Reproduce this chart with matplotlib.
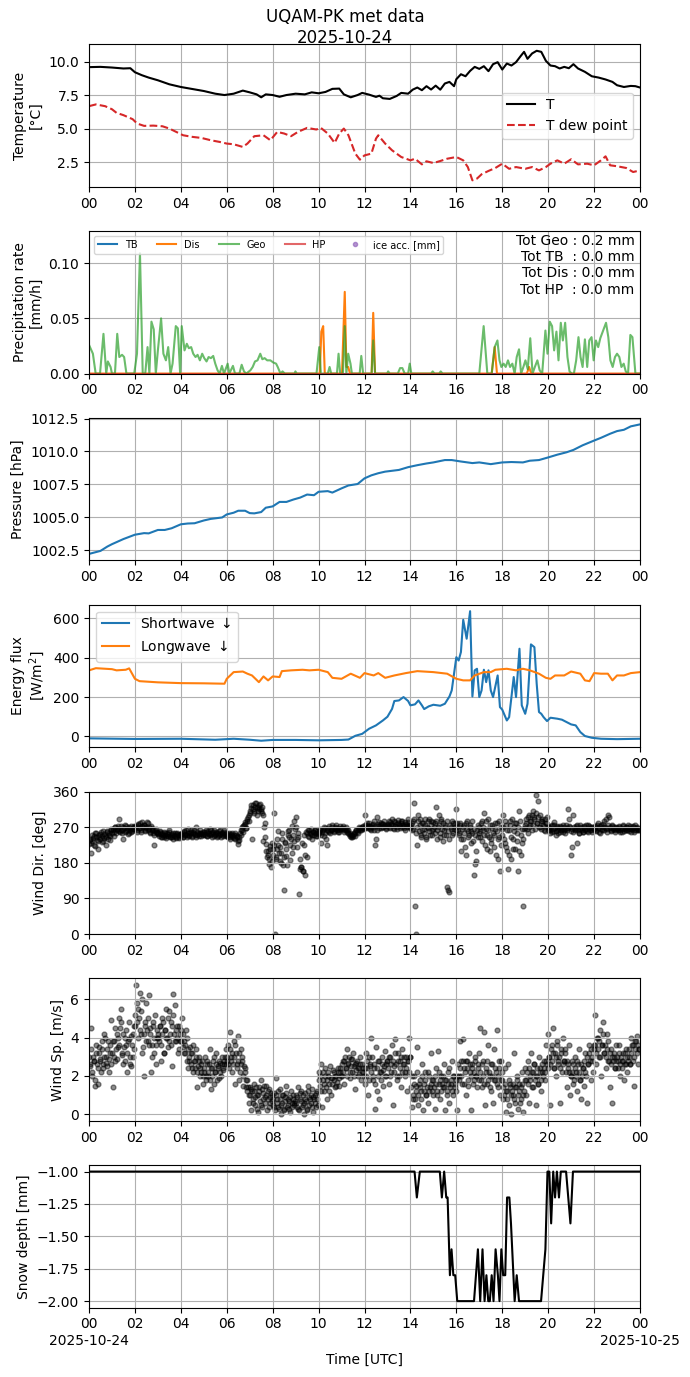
import numpy as np
import matplotlib
matplotlib.use("Agg")
import matplotlib.pyplot as plt

# ---- temperature (hours, degC) ----
t_temp = [0, 0.5, 1.0, 1.5, 1.8, 2.0, 2.3, 2.6, 3.0, 3.5, 4.0, 4.5, 5.0, 5.5, 5.9,
          6.3, 6.7, 7.0, 7.3, 7.5, 7.7, 8.0, 8.3, 8.6, 9.0, 9.4, 9.7, 10.0, 10.3,
          10.6, 10.9, 11.1, 11.4, 11.7, 11.9, 12.2, 12.5, 12.65, 12.8, 13.1, 13.4,
          13.6, 13.9, 14.1, 14.3, 14.5, 14.7, 14.9, 15.1, 15.3, 15.5, 15.7, 15.9,
          16.0, 16.2, 16.4, 16.6, 16.8, 17.0, 17.2, 17.4, 17.6, 17.8, 18.0, 18.2,
          18.4, 18.6, 18.8, 18.95, 19.1, 19.3, 19.5, 19.7, 19.9, 20.1, 20.3, 20.5,
          20.7, 20.9, 21.1, 21.3, 21.6, 21.9, 22.2, 22.5, 22.8, 23.0, 23.3, 23.6,
          23.8, 24.0]
temp = [9.58, 9.6, 9.55, 9.48, 9.5, 9.2, 8.98, 8.8, 8.6, 8.3, 8.1, 7.95, 7.8, 7.6, 7.5,
        7.6, 7.83, 7.7, 7.55, 7.33, 7.55, 7.5, 7.37, 7.5, 7.6, 7.55, 7.7, 7.63, 7.73,
        7.96, 7.98, 7.55, 7.33, 7.5, 7.66, 7.53, 7.36, 7.45, 7.26, 7.21, 7.43,
        7.66, 7.6, 7.9, 8.06, 7.86, 8.16, 7.91, 8.2, 7.9, 8.36, 8.48, 8.16,
        8.68, 9.05, 8.9, 9.3, 9.6, 9.45, 9.65, 9.28, 9.8, 9.95, 9.4, 9.85,
        9.7, 9.95, 10.4, 10.72, 10.2, 10.6, 10.8, 10.72, 10.05, 9.7, 9.65, 9.48,
        9.6, 9.5, 9.8, 9.48, 9.23, 8.9, 8.8, 8.66, 8.48, 8.23, 8.1, 8.18,
        8.16, 8.06]

t_dew = [0, 0.3, 0.7, 1.0, 1.2, 1.5, 1.9, 2.1, 2.4, 2.8, 3.2, 3.5, 3.8, 4.1, 4.5, 4.9,
         5.3, 5.7, 6.0, 6.3, 6.7, 6.9, 7.2, 7.6, 7.9, 8.2, 8.5, 8.8, 9.1, 9.5, 9.9,
         10.1, 10.4, 10.7, 10.9, 11.1, 11.3, 11.6, 11.8, 12.0, 12.3, 12.5, 12.6,
         12.9, 13.2, 13.6, 14.0, 14.2, 14.5, 14.7, 15.0, 15.3, 15.6, 16.0, 16.3,
         16.5, 16.7, 16.9, 17.1, 17.4, 17.7, 18.0, 18.3, 18.6, 19.0, 19.3, 19.6,
         19.9, 20.1, 20.4, 20.7, 21.0, 21.3, 21.7, 22.0, 22.3, 22.5, 22.7, 23.0,
         23.4, 23.7, 24.0]
dew = [6.67, 6.8, 6.67, 6.44, 6.17, 6.0, 5.7, 5.37, 5.2, 5.22, 5.17, 5.0, 4.75, 4.5, 4.38, 4.3,
       4.13, 4.0, 3.88, 3.83, 3.63, 3.88, 4.43, 4.5, 4.13, 4.75, 4.63, 4.43, 4.75, 5.05, 4.93,
       5.05, 4.63, 3.93, 4.63, 5.0, 4.5, 3.13, 2.68, 3.0, 3.13, 4.25, 4.5,
       3.88, 3.38, 2.88, 2.63, 2.75, 2.33, 2.56, 2.43, 2.58, 2.75, 2.88, 2.63,
       2.13, 1.14, 1.27, 1.59, 1.84, 2.06, 2.38, 2.0, 2.13, 2.0, 2.13, 1.88,
       2.13, 2.38, 2.63, 2.38, 2.71, 2.33, 2.38, 2.26, 2.63, 2.93, 2.26, 2.19,
       2.06, 1.76, 1.88]

# ---- precipitation (hours, mm/h) ----
t_geo = [0, 0.17, 0.29, 0.48, 0.63, 0.75, 0.82, 0.94, 1.0, 1.13, 1.23, 1.32, 1.44, 1.53,
         1.63, 1.97, 2.09, 2.22, 2.34, 2.45, 2.55, 2.63, 2.72, 2.82, 2.91, 3.0, 3.14,
         3.24, 3.35, 3.45, 3.55, 3.64, 3.78, 3.87, 3.97, 4.04, 4.16, 4.26, 4.35, 4.45,
         4.54, 4.64, 4.73, 4.83, 4.93, 5.02, 5.12, 5.21, 5.31, 5.41, 5.5, 5.6, 5.69,
         5.79, 5.88, 6.04, 6.11, 6.27, 6.36, 6.55, 6.65, 6.75, 6.85, 7.03, 7.13, 7.23,
         7.34, 7.46, 7.55, 7.65, 7.76, 7.9, 8.03, 8.15, 8.22, 8.34, 8.43, 8.53, 8.95,
         8.99, 9.05, 9.91, 10.03, 10.1, 10.4, 10.48, 10.55, 10.8, 10.87, 10.94, 11.06,
         11.14, 11.21, 11.29, 11.39, 11.45, 11.79, 11.86, 11.94, 12.31, 12.38, 12.46,
         12.98, 13.03, 13.1, 13.45, 13.55, 13.65, 13.75, 13.9, 13.97, 14.04, 14.9,
         14.97, 15.05, 15.25, 15.32, 15.4, 17.0, 17.19, 17.35, 17.54, 17.67, 17.79,
         17.88, 17.96, 18.06, 18.15, 18.25, 18.34, 18.44, 18.54, 18.63, 18.73, 18.82,
         18.92, 19.01, 19.11, 19.22, 19.32, 19.42, 19.53, 19.63, 19.74, 19.88, 19.97,
         20.07, 20.17, 20.26, 20.36, 20.45, 20.55, 20.64, 20.74, 20.84, 20.93, 21.03,
         21.12, 21.22, 21.32, 21.41, 21.5, 21.6, 21.7, 21.79, 21.89, 21.98, 22.08,
         22.18, 22.27, 22.41, 22.52, 22.62, 22.71, 22.81, 22.91, 23.0, 23.1, 23.19,
         23.29, 23.38, 23.48, 23.58, 23.67, 23.8, 24.0]
geo = [0.026, 0.018, 0, 0, 0.036, 0, 0.011, 0.006, 0, 0, 0.036, 0.015, 0.017, 0.015,
       0, 0, 0.018, 0.109, 0, 0, 0.024, 0, 0.047, 0.040, 0, 0.021, 0.050,
       0.018, 0.012, 0.024, 0, 0.009, 0.043, 0.041, 0, 0.043, 0.021, 0.027, 0.023, 0.024,
       0.018, 0.015, 0.017, 0.012, 0.018, 0.014, 0.011, 0.015, 0.014, 0.016, 0.009, 0.003, 0,
       0.007, 0, 0.009, 0, 0.007, 0, 0, 0.008, 0.002, 0, 0.003, 0.006, 0.011,
       0.012, 0.018, 0.013, 0.014, 0.012, 0.012, 0.010, 0.009, 0.006, 0, 0.002, 0, 0,
       0.002, 0, 0, 0.024, 0, 0, 0.006, 0, 0, 0.018, 0, 0,
       0.043, 0, 0.018, 0.009, 0, 0, 0.016, 0, 0, 0.030, 0,
       0, 0.002, 0, 0, 0.005, 0.005, 0, 0, 0.009, 0, 0,
       0.002, 0, 0, 0.002, 0, 0, 0.043, 0, 0, 0.024, 0.030,
       0.012, 0.006, 0.009, 0.006, 0.012, 0.006, 0.009, 0, 0.015, 0.022, 0,
       0.006, 0.012, 0.004, 0.032, 0, 0.006, 0.012, 0.003, 0, 0.039, 0.018,
       0.047, 0.043, 0.021, 0.038, 0.012, 0.046, 0.030, 0.046, 0.015, 0.002, 0,
       0, 0.012, 0.033, 0.015, 0.006, 0.031, 0.006, 0.030, 0.033, 0.012, 0.030,
       0.024, 0.032, 0.040, 0.046, 0.033, 0.012, 0.006, 0.015, 0.018, 0.015, 0.006,
       0.009, 0.002, 0, 0.035, 0.033, 0, 0]

t_dis = [0, 10.05, 10.12, 10.2, 10.27, 11.02, 11.14, 11.21, 11.29, 11.37, 12.31, 12.38,
         12.46, 17.54, 17.67, 17.77, 19.07, 19.17, 19.26, 24.0]
dis = [0, 0, 0.038, 0.043, 0, 0, 0.074, 0.006, 0.006, 0, 0, 0.055,
       0, 0, 0.024, 0, 0, 0.006, 0, 0]

t_tb = [0, 24.0]
tb = [0, 0]
t_hp = [0, 24.0]
hp = [0, 0]
ice_acc = []

tot_geo, tot_tb, tot_dis, tot_hp = 0.2, 0.0, 0.0, 0.0

# ---- pressure (hours, hPa) ----
t_pres = [0, 0.5, 0.8, 1.0, 1.5, 2.0, 2.4, 2.6, 3.0, 3.3, 3.6, 4.0, 4.3, 4.6, 5.0, 5.3,
          5.8, 6.0, 6.3, 6.5, 6.8, 7.0, 7.2, 7.5, 7.7, 8.0, 8.3, 8.6, 8.9, 9.2, 9.5,
          9.8, 10.0, 10.4, 10.6, 11.0, 11.3, 11.7, 12.0, 12.3, 12.6, 12.9, 13.5,
          13.9, 14.3, 14.7, 15.0, 15.5, 15.8, 16.2, 16.7, 17.0, 17.5, 18.0, 18.4,
          18.9, 19.2, 19.6, 20.0, 20.4, 20.8, 21.1, 21.5, 22.0, 22.3, 22.7, 23.0,
          23.3, 23.6, 24.0]
pres = [1002.22, 1002.45, 1002.78, 1002.96, 1003.35, 1003.68, 1003.8, 1003.78, 1004.04,
        1004.04, 1004.17, 1004.47, 1004.53, 1004.55, 1004.76, 1004.88, 1004.99, 1005.22,
        1005.35, 1005.5, 1005.5, 1005.32, 1005.3, 1005.4, 1005.73, 1005.83, 1006.17,
        1006.17, 1006.35, 1006.5, 1006.73, 1006.68, 1006.94, 1006.99, 1006.88, 1007.2,
        1007.42, 1007.53, 1007.96, 1008.19, 1008.35, 1008.47, 1008.6, 1008.81, 1008.96,
        1009.09, 1009.17, 1009.35, 1009.35, 1009.24, 1009.12, 1009.17, 1009.04, 1009.17,
        1009.2, 1009.17, 1009.3, 1009.35, 1009.55, 1009.76, 1009.94, 1010.12, 1010.47,
        1010.83, 1011.04, 1011.35, 1011.55, 1011.65, 1011.91, 1012.06]

# ---- radiation (hours, W/m2) ----
t_sw = [0, 2, 4, 5.5, 6.3, 7.0, 7.5, 8, 9, 10, 11, 11.3, 11.6, 11.9, 12.2, 12.5, 12.8,
        13.0, 13.2, 13.3, 13.5, 13.7, 13.9, 14.0, 14.2, 14.35, 14.5, 14.6, 14.8, 15.0,
        15.3, 15.5, 15.7, 15.8, 15.9, 16.0, 16.1, 16.2, 16.3, 16.45, 16.6, 16.7, 16.8,
        16.9, 17.0, 17.1, 17.2, 17.3, 17.4, 17.5, 17.6, 17.8, 17.9, 18.0, 18.2, 18.3,
        18.5, 18.6, 18.75, 18.85, 19.0, 19.1, 19.25, 19.4, 19.5, 19.6, 19.7, 19.8,
        19.95, 20.1, 20.4, 20.6, 20.8, 21.0, 21.2, 21.4, 21.6, 21.9, 22.3, 23, 24]
sw = [-10, -13, -12, -17, -12, -17, -22, -18, -18, -20, -18, -16, 3, 13, 39, 56, 81,
      100, 140, 180, 183, 200, 180, 158, 163, 183, 158, 139, 153, 161,
      156, 166, 203, 234, 319, 403, 386, 429, 593, 497, 637, 203, 336,
      344, 200, 234, 339, 276, 336, 234, 200, 310, 149, 136, 81, 98,
      302, 200, 446, 158, 115, 166, 468, 454, 268, 124, 115, 98,
      78, 95, 90, 85, 73, 61, 56, 22, 2, -7, -12, -14, -12]

t_lw = [0, 0.3, 1.0, 1.2, 1.6, 1.75, 2.0, 2.2, 3, 4, 5, 5.9, 6.0, 6.3, 6.7, 6.9, 7.1,
        7.4, 7.6, 7.8, 8.0, 8.3, 8.4, 8.8, 9.3, 9.6, 10.0, 10.4, 10.6, 11.0, 11.4,
        11.8, 12.0, 12.4, 12.6, 12.9, 13.3, 13.8, 14.3, 15.0, 15.6, 16.0, 16.3, 16.6,
        16.8, 17.2, 17.5, 17.7, 18.2, 18.6, 18.9, 19.2, 19.6, 19.9, 20.1, 20.3, 20.7,
        21.0, 21.4, 21.6, 21.8, 22.0, 22.3, 22.6, 22.8, 23.0, 23.3, 23.6, 24.0]
lw = [336, 347, 342, 336, 339, 346, 293, 281, 275, 271, 270, 268, 293, 327, 330, 319, 310,
      276, 305, 285, 305, 302, 332, 336, 339, 336, 339, 327, 298, 293, 319,
      298, 322, 310, 322, 298, 310, 322, 332, 327, 319, 293, 285, 285,
      310, 327, 327, 339, 344, 336, 344, 336, 319, 298, 293, 310, 310,
      330, 319, 285, 281, 322, 319, 319, 285, 310, 310, 322, 327]

# ---- wind direction (deg): 20 "even" samples per hour ----
wind_dir = [
    228, 240, 205, 235, 248, 222, 255, 238, 215, 245, 252, 232, 260, 242, 248, 225, 258, 250, 238, 262,
    255, 265, 248, 270, 262, 268, 290, 258, 272, 264, 240, 275, 260, 268, 252, 270, 262, 258, 266, 272,
    265, 272, 258, 278, 268, 262, 282, 270, 275, 260, 268, 280, 265, 258, 272, 262, 255, 225, 265, 258,
    255, 248, 260, 252, 245, 258, 250, 242, 256, 248, 262, 245, 252, 240, 250, 255, 246, 252, 242, 250,
    248, 256, 245, 260, 252, 250, 265, 248, 255, 262, 246, 258, 252, 270, 250, 256, 248, 262, 254, 250,
    258, 250, 262, 248, 255, 265, 252, 246, 258, 262, 250, 255, 248, 260, 252, 245, 256, 250, 262, 248,
    250, 245, 255, 240, 252, 248, 242, 255, 250, 246, 228, 238, 262, 270, 258, 275, 282, 268, 290, 285,
    305, 318, 240, 325, 312, 330, 300, 322, 315, 328, 310, 320, 235, 280, 228, 195, 210, 178, 222, 185,
    215, 305, 0, 195, 240, 225, 185, 205, 255, 175, 110, 232, 198, 250, 262, 188, 240, 272, 220, 285,
    295, 240, 255, 100, 165, 170, 160, 225, 150, 258, 195, 248, 262, 252, 240, 258, 250, 262, 255, 248,
    255, 262, 230, 258, 265, 248, 268, 225, 260, 272, 255, 262, 270, 258, 265, 275, 262, 268, 258, 265,
    268, 272, 262, 265, 270, 258, 262, 255, 250, 245, 248, 252, 258, 262, 255, 265, 268, 262, 270, 265,
    300, 268, 275, 272, 280, 265, 270, 278, 262, 225, 240, 295, 272, 282, 268, 278, 270, 285, 275, 268,
    272, 285, 268, 278, 290, 275, 265, 282, 270, 288, 275, 268, 280, 285, 272, 262, 278, 270, 282, 275,
    270, 262, 285, 330, 70, 0, 225, 300, 290, 245, 262, 280, 255, 275, 240, 268, 290, 250, 285, 262,
    265, 280, 320, 240, 270, 300, 255, 285, 235, 262, 275, 250, 120, 110, 105, 270, 285, 255, 265, 280,
    315, 270, 255, 280, 210, 265, 240, 275, 200, 285, 260, 250, 270, 230, 255, 150, 178, 185, 262, 245,
    270, 245, 285, 262, 305, 225, 265, 250, 290, 210, 240, 275, 255, 220, 265, 280, 190, 245, 160, 270,
    250, 300, 230, 275, 210, 165, 262, 285, 190, 240, 270, 215, 280, 255, 160, 310, 200, 230, 70, 265,
    268, 290, 255, 300, 275, 285, 262, 310, 295, 350, 280, 335, 270, 300, 265, 285, 272, 260, 280, 295,
    262, 270, 255, 275, 260, 282, 268, 250, 272, 262, 258, 270, 265, 275, 262, 255, 268, 315, 290, 270,
    200, 220, 300, 265, 272, 230, 262, 255, 275, 268, 258, 270, 262, 275, 265, 258, 272, 268, 262, 270,
    265, 272, 260, 280, 268, 255, 275, 262, 270, 285, 268, 258, 300, 295, 270, 262, 275, 265, 258, 270,
    268, 262, 272, 258, 265, 275, 260, 268, 270, 262, 266, 272, 258, 265, 270, 262, 275, 268, 262, 266,
]
# 20 "odd" samples per hour, taken half a step later
wind_dir_odd = [
    238, 230, 250, 242, 225, 255, 245, 235, 250, 240, 258, 248, 236, 252, 244, 260, 240, 255, 248, 265,
    262, 258, 270, 255, 266, 272, 260, 264, 255, 270, 268, 258, 274, 262, 256, 268, 272, 260, 265, 270,
    270, 262, 275, 268, 280, 258, 272, 276, 264, 270, 282, 262, 270, 256, 268, 262, 250, 262, 258, 255,
    252, 258, 245, 254, 250, 244, 255, 248, 252, 258, 244, 250, 246, 254, 248, 242, 256, 250, 245, 252,
    252, 245, 258, 250, 262, 246, 255, 250, 258, 248, 255, 262, 250, 246, 258, 252, 256, 248, 252, 258,
    252, 258, 248, 260, 252, 250, 262, 255, 248, 252, 258, 246, 255, 250, 262, 254, 248, 258, 252, 255,
    248, 252, 244, 250, 256, 245, 250, 240, 248, 235, 245, 255, 250, 262, 272, 278, 268, 285, 295, 300,
    310, 325, 315, 305, 320, 332, 318, 312, 325, 315, 305, 300, 270, 245, 210, 200, 190, 215, 170, 230,
    200, 225, 190, 215, 260, 205, 220, 180, 240, 195, 230, 215, 175, 260, 245, 225, 205, 250, 235, 265,
    270, 220, 245, 190, 170, 230, 160, 250, 200, 255, 262, 245, 255, 265, 250, 258, 262, 248, 260, 252,
    258, 265, 250, 262, 270, 255, 240, 262, 268, 258, 262, 275, 265, 260, 270, 268, 258, 262, 272, 268,
    265, 268, 258, 262, 266, 255, 252, 248, 246, 250, 255, 248, 262, 258, 266, 270, 262, 268, 272, 268,
    275, 270, 280, 268, 272, 262, 276, 270, 285, 272, 262, 278, 268, 275, 280, 270, 278, 272, 265, 276,
    278, 270, 282, 275, 268, 285, 272, 278, 265, 280, 272, 285, 270, 276, 268, 282, 275, 290, 272, 268,
    275, 280, 265, 290, 255, 270, 285, 260, 275, 250, 280, 265, 290, 245, 270, 285, 260, 275, 250, 282,
    270, 255, 285, 262, 275, 245, 290, 265, 280, 250, 270, 285, 260, 240, 275, 265, 250, 280, 270, 262,
    280, 262, 250, 275, 240, 270, 255, 220, 280, 265, 245, 275, 260, 285, 235, 265, 250, 210, 275, 255,
    260, 280, 235, 270, 250, 285, 215, 262, 245, 275, 230, 268, 250, 280, 200, 260, 240, 285, 225, 265,
    270, 240, 285, 220, 262, 200, 275, 245, 290, 215, 260, 280, 235, 270, 210, 285, 250, 265, 240, 275,
    280, 265, 295, 270, 285, 300, 275, 290, 265, 305, 280, 295, 270, 285, 290, 275, 262, 290, 280, 270,
    268, 262, 272, 258, 265, 275, 260, 270, 255, 268, 272, 262, 258, 270, 265, 275, 262, 268, 272, 260,
    265, 258, 270, 262, 268, 275, 255, 265, 270, 262, 258, 272, 266, 260, 275, 268, 262, 270, 258, 265,
    270, 262, 275, 268, 258, 272, 265, 278, 262, 270, 290, 265, 275, 268, 260, 272, 266, 270, 262, 268,
    265, 270, 262, 268, 258, 272, 266, 262, 270, 275, 260, 268, 265, 272, 258, 268, 262, 270, 266, 262,
]

# ---- wind speed (m/s): 20 "even" samples per hour ----
wind_sp = [
    3.0, 2.5, 4.5, 2.0, 2.8, 1.5, 3.2, 2.6, 1.6, 3.5, 2.8, 3.8, 2.4, 3.0, 4.0, 2.7, 3.4, 2.2, 3.6, 4.9,
    3.2, 1.4, 3.8, 2.8, 4.2, 3.5, 5.0, 4.5, 5.5, 3.2, 2.6, 4.0, 3.6, 2.2, 3.8, 4.8, 3.0, 2.5, 4.2, 3.4,
    5.2, 6.75, 4.8, 5.5, 6.3, 4.2, 6.0, 3.5, 2.0, 4.6, 5.8, 3.8, 6.2, 4.5, 2.2, 3.6, 4.8, 3.2, 2.6, 4.0,
    4.2, 3.8, 4.6, 2.8, 5.0, 3.2, 4.4, 5.5, 4.0, 3.5, 5.4, 4.8, 2.5, 6.25, 4.2, 5.7, 3.8, 4.6, 3.4, 4.2,
    4.4, 5.0, 3.5, 3.8, 3.2, 4.0, 2.4, 3.0, 3.5, 2.6, 3.2, 2.2, 2.8, 3.4, 1.4, 2.5, 3.0, 2.0, 2.6, 1.6,
    2.2, 3.0, 1.8, 2.6, 2.0, 3.4, 1.3, 2.4, 2.8, 1.6, 2.2, 3.2, 2.5, 1.9, 2.7, 2.0, 3.0, 2.3, 2.6, 3.4,
    2.8, 3.6, 2.4, 4.3, 3.0, 2.2, 3.8, 1.6, 3.2, 2.6, 4.1, 1.8, 3.4, 2.8, 1.5, 2.5, 2.2, 1.4, 1.8, 0.6,
    1.4, 0.2, 1.2, 0.8, 1.6, 0.5, 1.0, 0.1, 1.4, 0.7, 1.8, 0.4, 1.1, 0.9, 1.5, 0.2, 0.8, 1.3, 0.6, 1.0,
    0.5, 1.1, 0.2, 1.9, 0.8, 0.4, 1.3, 0.0, 0.6, 1.0, 0.3, 0.9, 1.5, 0.5, 0.7, 0.1, 1.2, 0.4, 0.8, 0.6,
    1.0, 0.4, 1.4, 0.2, 0.8, 1.2, 0.5, 0.0, 1.1, 0.7, 0.3, 1.5, 0.9, 0.6, 1.3, 0.1, 0.8, 1.0, 0.4, 1.2,
    2.2, 1.5, 2.6, 0.4, 1.8, 1.2, 2.4, 0.8, 2.0, 1.6, 2.5, 1.0, 1.9, 2.2, 1.4, 2.0, 1.7, 2.4, 1.5, 2.2,
    2.0, 2.8, 1.6, 3.0, 2.4, 3.4, 2.6, 1.9, 2.9, 2.2, 3.2, 2.5, 1.3, 2.7, 2.0, 2.4, 3.0, 1.8, 2.6, 2.2,
    1.6, 3.2, 2.4, 1.0, 3.0, 2.6, 4.0, 1.8, 2.4, 0.3, 3.5, 1.2, 2.8, 0.8, 2.2, 3.0, 1.5, 2.5, 3.3, 2.0,
    2.8, 1.6, 3.0, 2.2, 3.6, 0.5, 2.5, 3.9, 1.8, 3.2, 2.0, 2.8, 1.4, 3.4, 2.6, 2.2, 3.0, 1.2, 2.8, 4.0,
    3.0, 0.4, 1.0, 2.0, 0.8, 1.5, 3.5, 0.5, 1.8, 1.2, 2.6, 0.2, 1.6, 2.2, 1.0, 0.6, 2.0, 1.4, 3.2, 1.2,
    1.8, 0.3, 2.4, 1.2, 3.3, 1.6, 0.8, 2.0, 1.4, 2.6, 0.2, 1.8, 1.2, 2.2, 0.6, 1.6, 2.8, 1.0, 2.0, 1.4,
    1.2, 0.2, 2.0, 3.8, 2.8, 1.6, 3.9, 2.4, 1.0, 2.8, 1.5, 3.2, 2.2, 0.2, 2.6, 1.8, 3.0, 2.0, 1.4, 2.6,
    3.2, 4.5, 1.4, 2.8, 4.3, 0.5, 2.2, 1.6, 3.6, 2.0, 1.2, 2.6, 0.6, 3.4, 1.8, 4.4, 1.4, 2.4, 1.0, 2.8,
    1.8, 0.8, 2.4, 0.1, 1.2, 2.6, 0.5, 1.6, 0.0, 1.0, 3.2, 0.6, 1.4, 2.0, 0.3, 1.6, 0.8, 2.2, 0.1, 1.2,
    2.4, 1.0, 2.8, 0.6, 1.8, 3.2, 2.2, 1.4, 2.6, 0.5, 2.0, 1.6, 3.0, 2.4, 1.2, 2.2, 2.8, 1.8, 3.6, 2.6,
    4.2, 3.0, 0.5, 3.6, 4.5, 2.4, 3.2, 2.0, 3.8, 2.6, 0.6, 3.4, 2.2, 4.0, 2.8, 3.2, 1.4, 2.6, 3.6, 1.0,
    2.0, 2.8, 1.6, 3.0, 2.2, 1.2, 2.6, 3.4, 1.8, 0.8, 2.4, 1.5, 3.2, 2.0, 0.6, 2.6, 3.6, 1.8, 2.8, 2.2,
    3.4, 5.2, 2.6, 4.0, 3.0, 4.4, 2.0, 3.6, 4.8, 3.2, 2.4, 4.2, 3.8, 2.8, 1.4, 3.4, 0.6, 3.0, 2.4, 3.6,
    3.0, 2.4, 3.6, 2.0, 2.8, 3.2, 1.8, 2.6, 3.4, 2.2, 3.0, 2.6, 4.0, 3.6, 2.8, 1.5, 3.8, 4.1, 2.6, 3.4,
]
# 20 "odd" samples per hour, taken half a step later
wind_sp_odd = [
    2.6, 3.4, 2.2, 3.0, 2.8, 1.8, 3.6, 2.4, 3.2, 2.9, 2.2, 3.4, 2.6, 4.2, 3.0, 2.5, 3.8, 2.9, 3.2, 2.6,
    3.8, 3.0, 4.5, 3.4, 2.9, 4.0, 3.6, 4.8, 3.1, 4.2, 3.5, 2.8, 4.4, 3.2, 3.9, 2.6, 4.1, 3.6, 3.0, 4.6,
    4.6, 5.8, 4.0, 5.0, 4.4, 5.4, 3.2, 4.2, 4.8, 3.8, 4.4, 5.0, 3.6, 4.2, 3.0, 4.6, 4.0, 5.2, 3.6, 4.4,
    4.0, 4.6, 3.6, 4.2, 4.8, 3.2, 4.4, 4.0, 5.0, 3.8, 4.2, 3.6, 4.6, 5.2, 3.8, 4.4, 4.0, 3.2, 4.6, 3.8,
    3.8, 4.2, 3.2, 3.6, 4.4, 2.8, 3.4, 2.8, 3.2, 2.4, 3.6, 2.8, 2.4, 3.0, 2.2, 2.8, 2.4, 2.2, 2.8, 2.0,
    2.4, 2.0, 2.8, 2.2, 2.6, 1.8, 2.4, 2.0, 3.0, 2.2, 2.6, 1.8, 2.4, 2.8, 2.2, 2.6, 2.4, 2.8, 3.0, 2.6,
    3.0, 2.6, 3.4, 2.8, 3.2, 2.6, 3.0, 3.6, 2.4, 2.8, 3.2, 2.2, 2.6, 3.0, 2.0, 2.4, 1.8, 1.2, 1.4, 1.0,
    1.0, 1.3, 0.6, 1.2, 0.9, 1.4, 0.3, 1.0, 1.2, 0.5, 1.3, 0.8, 1.5, 0.6, 1.0, 1.2, 0.4, 0.9, 1.1, 0.7,
    0.8, 0.4, 1.0, 0.6, 1.2, 0.3, 0.8, 0.5, 1.0, 0.2, 0.7, 1.1, 0.4, 0.8, 0.3, 0.9, 0.6, 1.0, 0.5, 0.7,
    0.6, 0.9, 0.3, 1.1, 0.7, 0.4, 1.0, 0.6, 0.8, 0.2, 1.2, 0.5, 0.8, 1.0, 0.4, 0.9, 0.6, 1.1, 0.8, 0.5,
    1.8, 2.0, 1.2, 2.2, 1.6, 2.0, 1.4, 1.8, 2.2, 1.2, 1.9, 1.6, 2.3, 1.8, 2.0, 1.5, 2.2, 1.9, 2.4, 2.0,
    2.6, 2.2, 2.8, 2.4, 2.0, 2.7, 3.0, 2.2, 2.5, 2.9, 2.0, 2.6, 2.3, 2.8, 2.4, 2.1, 2.6, 2.2, 2.4, 2.0,
    2.4, 2.0, 2.8, 1.8, 2.5, 2.2, 3.0, 2.0, 2.6, 1.6, 2.4, 2.0, 2.8, 2.2, 1.8, 2.6, 2.3, 2.0, 2.6, 2.8,
    2.4, 3.0, 2.0, 2.6, 2.8, 2.2, 3.2, 2.6, 2.0, 2.8, 2.4, 3.0, 2.2, 2.6, 3.0, 2.0, 2.4, 2.8, 2.2, 3.0,
    1.4, 2.0, 0.8, 1.6, 1.2, 2.2, 1.0, 1.6, 1.4, 0.8, 2.0, 1.2, 1.8, 1.0, 1.4, 2.2, 1.2, 1.6, 1.8, 1.0,
    1.4, 2.0, 1.6, 1.0, 2.2, 1.8, 1.2, 1.6, 2.0, 1.4, 1.8, 1.0, 1.6, 2.4, 1.4, 1.8, 1.2, 2.0, 1.6, 1.8,
    2.0, 2.6, 1.8, 2.4, 2.0, 2.8, 1.6, 2.2, 2.8, 2.4, 1.8, 2.6, 2.0, 2.4, 1.6, 2.2, 2.8, 2.0, 2.4, 1.8,
    2.2, 1.8, 2.6, 2.0, 1.6, 2.4, 2.8, 1.8, 2.2, 1.4, 2.6, 2.0, 1.8, 2.4, 2.2, 1.6, 2.0, 2.8, 1.8, 2.2,
    1.4, 1.0, 1.6, 1.2, 0.8, 1.8, 1.4, 1.0, 1.2, 1.6, 0.8, 1.4, 1.8, 1.0, 1.2, 0.6, 1.4, 1.6, 1.0, 1.8,
    1.8, 2.2, 1.6, 2.4, 2.0, 1.4, 2.2, 2.6, 1.8, 2.0, 2.4, 1.6, 2.2, 1.8, 2.6, 2.0, 2.4, 2.2, 2.8, 2.4,
    3.0, 2.6, 3.4, 2.8, 3.2, 2.4, 3.0, 3.6, 2.8, 3.0, 2.4, 3.2, 2.6, 2.8, 3.4, 2.2, 2.8, 2.4, 2.2, 2.0,
    2.2, 2.6, 1.8, 2.4, 2.0, 2.8, 2.2, 1.8, 2.6, 2.0, 2.4, 2.8, 2.2, 3.0, 2.6, 3.2, 2.8, 3.4, 3.0, 3.6,
    3.6, 3.2, 4.0, 3.4, 3.8, 3.0, 3.6, 4.2, 3.2, 3.6, 3.0, 3.4, 2.8, 3.2, 2.6, 3.0, 2.8, 3.2, 2.4, 2.8,
    2.8, 3.2, 2.6, 3.0, 2.4, 2.8, 3.2, 2.6, 3.0, 2.8, 3.4, 2.6, 3.2, 3.6, 3.0, 3.4, 3.8, 3.2, 3.6, 3.4,
]
samples_per_hour = 20

# ---- snow depth (hours, mm) ----
t_snow = [0, 14.18, 14.28, 14.41, 15.28, 15.37, 15.47, 15.56, 15.62, 15.72, 15.79, 15.87,
          15.95, 16.04, 16.77, 16.94, 17.04, 17.14, 17.23, 17.31, 17.39, 17.46, 17.54,
          17.62, 17.71, 17.81, 17.88, 17.96, 18.04, 18.13, 18.21, 18.31, 18.38, 18.54,
          18.63, 18.73, 19.69, 19.88, 19.97, 20.05, 20.13, 20.22, 20.3, 20.38, 20.47,
          20.55, 20.78, 20.97, 21.08, 24.0]
snow = [-1.0, -1.0, -1.2, -1.0, -1.0, -1.2, -1.0, -1.2, -1.2, -1.8, -1.6, -1.8,
        -1.8, -2.0, -2.0, -1.6, -2.0, -1.6, -2.0, -1.8, -2.0, -2.0, -1.8,
        -2.0, -1.6, -1.8, -2.0, -1.6, -1.8, -1.8, -1.2, -1.2, -1.4, -2.0,
        -1.8, -2.0, -2.0, -1.6, -1.0, -1.0, -1.4, -1.0, -1.2, -1.0, -1.2,
        -1.0, -1.0, -1.4, -1.0, -1.0]

hour_ticks = list(range(0, 25, 2))
hour_labels = ["%02d" % (h % 24) for h in hour_ticks]

# ---- figure ----
W, H = 690, 1377
fig = plt.figure(figsize=(W / 100, H / 100), dpi=100)
left_px, right_px = 89, 640
ax_h = 142.5
tops = [44.3 + 186.8 * i for i in range(7)]
axes = [fig.add_axes([left_px / W, 1 - (top + ax_h) / H, (right_px - left_px) / W, ax_h / H])
        for top in tops]

fig.suptitle("UQAM-PK met data\n2025-10-24", fontsize=12, y=1 - 8 / H, va="top")

# temperature
ax = axes[0]
ax.plot(t_temp, temp, color="k", label="T")
ax.plot(t_dew, dew, color="C3", ls="--", label="T dew point")
ax.set_ylabel("Temperature\n[°C]")
ax.legend(loc="center right")

# precipitation
ax = axes[1]
ax.plot(t_tb, tb, color="C0", label="TB")
ax.plot(t_dis, dis, color="C1", label="Dis")
ax.plot(t_geo, geo, color="C2", alpha=0.7, label="Geo")
ax.plot(t_hp, hp, color="C3", alpha=0.7, label="HP")
ax.plot(ice_acc, ice_acc, ".", color="C4", alpha=0.7, label="ice acc. [mm]")
ax.set_ylim(0, 0.129)
ax.set_ylabel("Precipitation rate\n[mm/h]")
ax.legend(loc="upper left", ncol=5, fontsize=7)
ax.text(0.99, 0.98,
        "Tot Geo : %.1f mm\nTot TB  : %.1f mm\nTot Dis : %.1f mm\nTot HP  : %.1f mm"
        % (tot_geo, tot_tb, tot_dis, tot_hp),
        transform=ax.transAxes, ha="right", va="top", fontsize=10, multialignment="right")

# pressure
ax = axes[2]
ax.plot(t_pres, pres, color="C0")
ax.set_ylabel("Pressure [hPa]")

# radiation
ax = axes[3]
ax.plot(t_sw, sw, color="C0", label="Shortwave $\\downarrow$")
ax.plot(t_lw, lw, color="C1", label="Longwave $\\downarrow$")
ax.set_ylabel("Energy flux\n[W/m$^2$]")
ax.legend(loc="upper left")

# wind: merge even and odd samples
n = len(wind_dir)
t_even = np.arange(n) / samples_per_hour
t_odd = (np.arange(n) + 0.5) / samples_per_hour
t_wind = np.concatenate([t_even, t_odd])
wdir = np.concatenate([wind_dir, wind_dir_odd])
wsp = np.concatenate([wind_sp, wind_sp_odd])

ax = axes[4]
ax.scatter(t_wind, wdir, s=12, color="k", alpha=0.45)
ax.set_ylim(0, 360)
ax.set_yticks([0, 90, 180, 270, 360])
ax.set_ylabel("Wind Dir. [deg]")

ax = axes[5]
ax.scatter(t_wind, wsp, s=12, color="k", alpha=0.45)
ax.set_ylabel("Wind Sp. [m/s]")

# snow depth
ax = axes[6]
ax.plot(t_snow, snow, color="k")
ax.set_ylabel("Snow depth [mm]")
ax.set_xlabel("Time [UTC]")

for i, ax in enumerate(axes):
    ax.set_xlim(0, 24)
    ax.set_xticks(hour_ticks)
    if i == len(axes) - 1:
        labels = list(hour_labels)
        labels[0] = "00\n2025-10-24"
        labels[-1] = "00\n2025-10-25"
        ax.set_xticklabels(labels)
    else:
        ax.set_xticklabels(hour_labels)
    ax.grid(True)

fig.savefig("out.png", dpi=100)
